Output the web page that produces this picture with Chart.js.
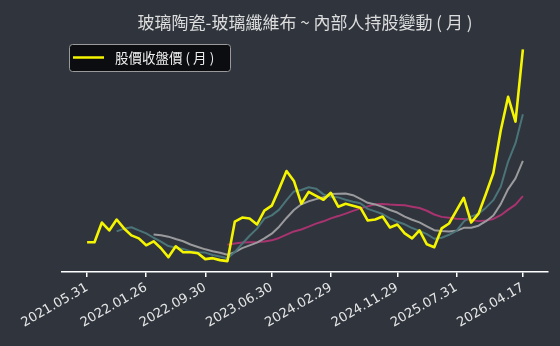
<!DOCTYPE html>
<html>
<head>
<meta charset="utf-8">
<script src="https://cdn.jsdelivr.net/npm/chart.js@4/dist/chart.umd.min.js"></script>
<style>
  body { margin: 0; background: #2f343d; }
  #wrap { width: 560px; height: 346px; position: relative; }
</style>
</head>
<body>
<div id="wrap"><canvas id="myChart"></canvas></div>
<script>
// monthly closes, 2021.05 -> 2026.04
const months = ['2021.05','2021.06','2021.07','2021.08','2021.09','2021.10','2021.11','2021.12',
  '2022.01','2022.02','2022.03','2022.04','2022.05','2022.06','2022.07','2022.08','2022.09','2022.10','2022.11','2022.12',
  '2023.01','2023.02','2023.03','2023.04','2023.05','2023.06','2023.07','2023.08','2023.09','2023.10','2023.11','2023.12',
  '2024.01','2024.02','2024.03','2024.04','2024.05','2024.06','2024.07','2024.08','2024.09','2024.10','2024.11','2024.12',
  '2025.01','2025.02','2025.03','2025.04','2025.05','2025.06','2025.07','2025.08','2025.09','2025.10','2025.11','2025.12',
  '2026.01','2026.02','2026.03','2026.04'];

const price = [3.0,3.0,5.0,4.2,5.3,4.4,3.7,3.4,2.7,3.1,2.4,1.5,2.6,2.0,2.0,1.9,1.3,1.4,1.2,1.1,
  5.1,5.5,5.4,4.8,6.2,6.7,8.4,10.2,9.2,6.9,8.1,7.7,7.3,8.0,6.6,6.9,6.7,6.5,5.2,5.3,
  5.6,4.5,4.8,3.9,3.4,4.2,2.8,2.5,4.4,4.9,6.2,7.5,5.0,5.9,7.9,10.0,14.3,17.7,15.2,22.5];

// moving averages (5 / 10 / 20 months)
const ma5 = [null,null,null,null,4.10,4.38,4.52,4.20,3.90,3.46,3.06,2.62,2.46,2.32,2.10,2.00,1.96,1.72,1.56,1.38,
  2.02,2.86,3.66,4.38,5.40,5.72,6.30,7.26,8.14,8.28,8.56,8.42,7.84,7.60,7.54,7.30,7.10,6.94,6.38,6.12,
  5.86,5.42,5.08,4.82,4.44,4.16,3.82,3.36,3.46,3.76,4.16,5.10,5.60,5.90,6.50,7.26,8.62,11.16,13.02,15.94];
const ma10 = [null,null,null,null,null,null,null,null,null,3.78,3.72,3.57,3.33,3.11,2.78,2.53,2.29,2.09,1.94,1.74,
  2.01,2.41,2.69,2.97,3.39,3.87,4.58,5.46,6.26,6.84,7.14,7.36,7.55,7.87,7.91,7.93,7.76,7.39,6.99,6.83,
  6.58,6.26,6.01,5.60,5.28,5.01,4.62,4.22,4.14,4.10,4.16,4.46,4.48,4.68,5.13,5.71,6.86,8.38,9.46,11.22];
const ma20 = [null,null,null,null,null,null,null,null,null,null,null,null,null,null,null,null,null,null,null,2.76,
  2.87,2.99,3.01,3.04,3.09,3.20,3.44,3.78,4.10,4.29,4.58,4.89,5.12,5.42,5.65,5.90,6.17,6.43,6.63,6.84,
  6.86,6.81,6.78,6.74,6.60,6.47,6.19,5.81,5.57,5.47,5.37,5.36,5.25,5.14,5.21,5.36,5.74,6.30,6.80,7.66];

const tickIdx = [0, 8, 16, 25, 33, 42, 50, 59];
const tickLabels = ['2021.05.31','2022.01.26','2022.09.30','2023.06.30','2024.02.29','2024.11.29','2025.07.31','2026.04.17'];

function pts(arr) {
  return arr.map((v, i) => ({ x: i, y: v })).filter(p => p.y !== null);
}

// legend box drawn by hand (only the close price is listed)
const legendBox = {
  id: 'legendBox',
  afterDraw(chart) {
    const c = chart.ctx;
    c.save();
    c.beginPath();
    c.roundRect(69.5, 44.5, 161, 27, 3);
    c.fillStyle = '#0b0d10';
    c.fill();
    c.strokeStyle = '#9a9a9a';
    c.lineWidth = 1;
    c.stroke();
    c.beginPath();
    c.moveTo(73, 57.5);
    c.lineTo(104, 57.5);
    c.strokeStyle = '#f5f500';
    c.lineWidth = 2.5;
    c.stroke();
    c.fillStyle = '#eeeeee';
    c.font = '13.5px "Noto Sans CJK TC"';
    c.textBaseline = 'middle';
    c.fillText(chart.data.datasets[0].label, 115, 58);
    c.restore();
  }
};

const ctx = document.getElementById('myChart');
const myChart = new Chart(ctx, {
  type: 'line',
  data: {
    datasets: [
      { label: '股價收盤價 ( 月 )', data: pts(price), borderColor: '#f5f500', borderWidth: 2.6 },
      { label: 'MA5', data: pts(ma5), borderColor: '#4b7478', borderWidth: 2 },
      { label: 'MA10', data: pts(ma10), borderColor: '#9b9b9e', borderWidth: 2 },
      { label: 'MA20', data: pts(ma20), borderColor: '#a8336f', borderWidth: 2 }
    ]
  },
  options: {
    responsive: true,
    maintainAspectRatio: false,
    animation: false,
    elements: { point: { radius: 0 }, line: { tension: 0, borderJoinStyle: 'round' } },
    layout: { padding: { left: 62, right: 12, top: 8, bottom: 0 } },
    plugins: {
      legend: { display: false },
      tooltip: { enabled: false },
      title: {
        display: true,
        fullSize: false,
        text: '玻璃陶瓷-玻璃纖維布 ~ 內部人持股變動 ( 月 )',
        color: '#dddddd',
        font: { family: '"Noto Sans CJK TC"', size: 17, weight: 'normal' },
        padding: { top: 4, bottom: 8 }
      }
    },
    scales: {
      x: {
        type: 'linear',
        min: -3.4,
        max: 62.4,
        afterBuildTicks: (axis) => { axis.ticks = tickIdx.map(v => ({ value: v })); },
        afterFit: (axis) => { axis.height = 74; },
        ticks: {
          autoSkip: false,
          minRotation: 30,
          maxRotation: 30,
          color: '#e6e6e6',
          font: { family: 'DejaVu Sans', size: 13 },
          padding: 3,
          callback: (val) => tickLabels[tickIdx.indexOf(val)]
        },
        grid: { drawOnChartArea: false, drawTicks: true, tickLength: 5, color: '#ffffff', lineWidth: 1.5 },
        border: { display: true, color: '#ffffff', width: 1.5 }
      },
      y: {
        display: false,
        min: 0,
        max: 23.4
      }
    }
  },
  plugins: [legendBox]
});
</script>
</body>
</html>
